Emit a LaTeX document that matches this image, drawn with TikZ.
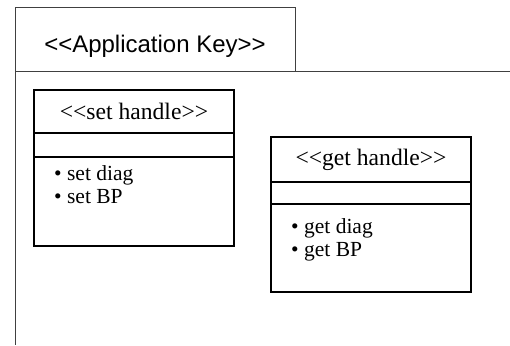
\documentclass[tikz,border=0pt]{standalone}
\usepackage{fontspec}
\setmainfont{Liberation Serif}
\setsansfont{Liberation Sans}
\usetikzlibrary{positioning}

\begin{document}
\begin{tikzpicture}[x=1pt, y=-1pt, node distance=0pt]
    \tikzstyle{frame} = [draw, line width=1pt, color=black!75]
    \tikzstyle{tab} = [rectangle, draw, line width=1pt, color=black!75, text=black, outer sep=0pt, minimum width=280pt, minimum height=63pt, text height=31pt, text depth=5pt, font=\sffamily\fontsize{24}{28}\selectfont]
    \tikzstyle{title} = [rectangle, draw, line width=1.5pt, outer sep=0pt, inner sep=0pt, minimum width=200pt, font=\fontsize{23.6}{27}\selectfont]
    \tikzstyle{part} = [rectangle, draw, line width=1.5pt, outer sep=0pt, inner sep=0pt, minimum width=200pt]
    \tikzstyle{items} = [align=left, inner sep=0pt, font=\fontsize{21.5}{23}\selectfont]

    \useasboundingbox (0,0) rectangle (510,345);

    % package tab and frame
    \node [tab] (appkey) at (155,39.5) {<{}<Application Key>{}>};
    \coordinate (frameright) at (510,71);
    \coordinate (framebottom) at (15,345);
    \path [frame] (appkey.south east) -- (frameright);
    \path [frame] (appkey.south west) -- (framebottom);

    % set handle
    \node [title, minimum height=43pt] (settitle) at (134,111.5) {<{}<set handle>{}>};
    \node [part, minimum height=24pt, below=of settitle] (setmid) {};
    \node [part, minimum height=89pt, below=of setmid] (setbody) {};
    \node [items, below right=8pt and 20pt of setbody.north west] (setitems) {\textbullet\ set diag\\\textbullet\ set BP};

    % get handle
    \node [title, minimum height=45pt] (gettitle) at (371,159.5) {<{}<get handle>{}>};
    \node [part, minimum height=22pt, below=of gettitle] (getmid) {};
    \node [part, minimum height=88pt, below=of getmid] (getbody) {};
    \node [items, below right=14pt and 20pt of getbody.north west] (getitems) {\textbullet\ get diag\\\textbullet\ get BP};
\end{tikzpicture}
\end{document}
